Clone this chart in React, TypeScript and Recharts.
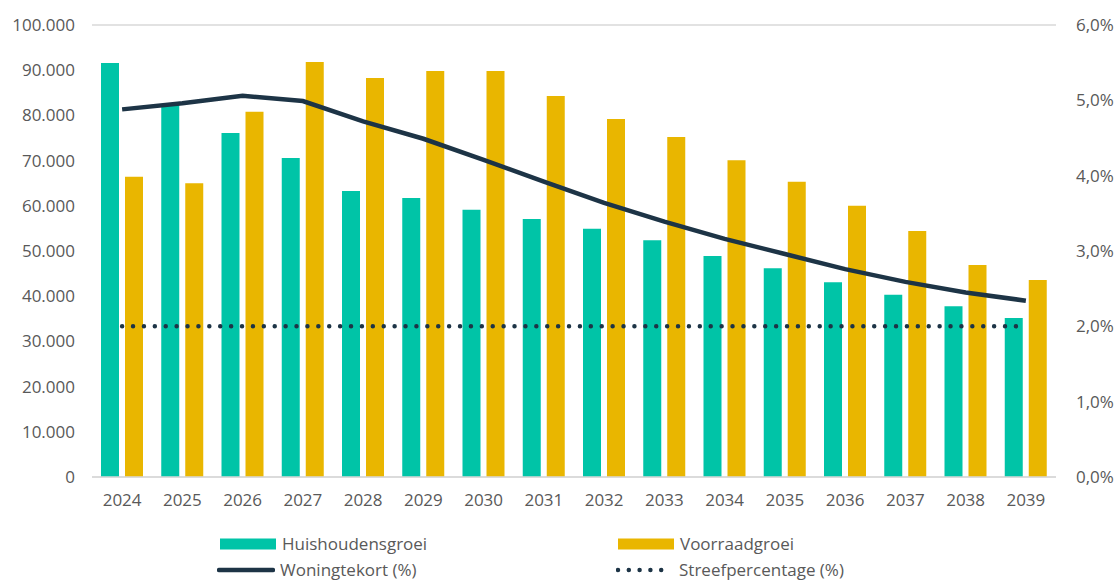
import React from "react";
import {
  ComposedChart,
  Bar,
  Line,
  XAxis,
  YAxis,
  CartesianGrid,
} from "recharts";

const years = [
  "2024", "2025", "2026", "2027", "2028", "2029", "2030", "2031",
  "2032", "2033", "2034", "2035", "2036", "2037", "2038", "2039",
];
const huishoudensgroei = [
  91600, 82500, 76100, 70600, 63300, 61700, 59100, 57100,
  54900, 52400, 48900, 46200, 43100, 40300, 37800, 35200,
];
const voorraadgroei = [
  66400, 65000, 80800, 91800, 88300, 89800, 89800, 84300,
  79200, 75200, 70100, 65300, 60000, 54400, 46900, 43600,
];
const woningtekort = [
  4.88, 4.96, 5.06, 4.99, 4.72, 4.49, 4.21, 3.92,
  3.64, 3.39, 3.16, 2.96, 2.76, 2.59, 2.45, 2.34,
];
const streefpercentage = 2.0;

const leftTicks = [0, 10000, 20000, 30000, 40000, 50000, 60000, 70000, 80000, 90000, 100000];
const rightTicks = [0, 1, 2, 3, 4, 5, 6];

const data = years.map((y, i) => ({
  year: y,
  huis: huishoudensgroei[i],
  voorraad: voorraadgroei[i],
  tekort: woningtekort[i],
  streef: streefpercentage,
}));

const TEAL = "#00c4a7";
const YELLOW = "#e9b600";
const NAVY = "#1d3446";
const GREY = "#595959";
const FONT = "'Open Sans', 'Noto Sans', sans-serif";

const fmtThousands = (v: number) =>
  String(v).replace(/\B(?=(\d{3})+(?!\d))/g, ".");
const fmtPct = (v: number) => v.toFixed(1).replace(".", ",") + "%";

const tickStyle = { fill: GREY, fontSize: 17, fontFamily: FONT };

const LegendItem = ({ x, y, label, swatch }: any) => (
  <div
    style={{
      position: "absolute",
      left: x,
      top: y - 10,
      height: 20,
      lineHeight: "20px",
      display: "flex",
      alignItems: "center",
      fontFamily: FONT,
      fontSize: 17,
      color: GREY,
      whiteSpace: "nowrap",
    }}
  >
    <svg width={58} height={14} style={{ marginRight: 5 }}>
      {swatch}
    </svg>
    <span>{label}</span>
  </div>
);

const App = () => {
  return (
    <div
      style={{
        position: "absolute",
        left: 0,
        top: 0,
        width: 1118,
        height: 582,
        overflow: "hidden",
        background: "#fff",
      }}
    >
      <ComposedChart
        width={1118}
        height={582}
        data={data}
        margin={{ top: 25, right: 0, left: 0, bottom: 65 }}
        barSize={18}
        barGap={6}
      >
        <CartesianGrid vertical={false} stroke="#d9d9d9" strokeWidth={1.3} />
        <XAxis
          dataKey="year"
          height={40}
          axisLine={{ stroke: "#d9d9d9", strokeWidth: 1.3 }}
          tickLine={false}
          tick={tickStyle}
          tickMargin={11}
          interval={0}
        />
        <YAxis
          yAxisId="left"
          width={92}
          domain={[0, 100000]}
          ticks={leftTicks}
          tickFormatter={fmtThousands}
          axisLine={false}
          tickLine={false}
          tick={tickStyle}
          tickMargin={11}
        />
        <YAxis
          yAxisId="right"
          orientation="right"
          width={62}
          domain={[0, 6]}
          ticks={rightTicks}
          tickFormatter={fmtPct}
          axisLine={false}
          tickLine={false}
          tick={tickStyle}
          tickMargin={14}
        />
        <Bar yAxisId="left" dataKey="huis" name="Huishoudensgroei" fill={TEAL} isAnimationActive={false} />
        <Bar yAxisId="left" dataKey="voorraad" name="Voorraadgroei" fill={YELLOW} isAnimationActive={false} />
        <Line
          yAxisId="right"
          dataKey="tekort"
          name="Woningtekort (%)"
          type="linear"
          stroke={NAVY}
          strokeWidth={4.5}
          dot={false}
          isAnimationActive={false}
        />
        <Line
          yAxisId="right"
          dataKey="streef"
          name="Streefpercentage (%)"
          type="linear"
          stroke={NAVY}
          strokeWidth={4.5}
          strokeDasharray="0 10.9"
          strokeLinecap="round"
          dot={false}
          isAnimationActive={false}
        />
      </ComposedChart>

      <LegendItem
        x={219}
        y={544}
        label="Huishoudensgroei"
        swatch={<rect x={1} y={1.5} width={56} height={11} fill={TEAL} />}
      />
      <LegendItem
        x={617}
        y={544}
        label="Voorraadgroei"
        swatch={<rect x={1} y={1.5} width={56} height={11} fill={YELLOW} />}
      />
      <LegendItem
        x={217}
        y={570}
        label="Woningtekort (%)"
        swatch={
          <line x1={2} y1={7} x2={56} y2={7} stroke={NAVY} strokeWidth={4.5} strokeLinecap="round" />
        }
      />
      <LegendItem
        x={616}
        y={570}
        label="Streefpercentage (%)"
        swatch={
          <line
            x1={2}
            y1={7}
            x2={56}
            y2={7}
            stroke={NAVY}
            strokeWidth={4.5}
            strokeDasharray="0 10.8"
            strokeLinecap="round"
          />
        }
      />
    </div>
  );
};

export default App;
